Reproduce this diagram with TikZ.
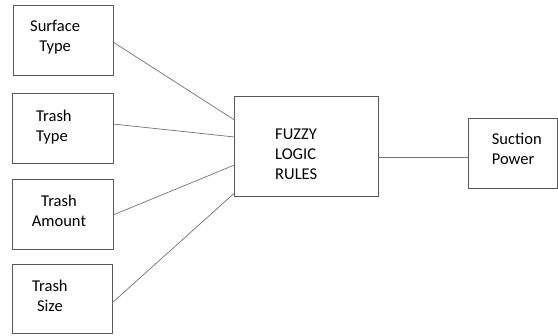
\documentclass[tikz,border=0pt]{standalone}
\usepackage{fontspec}
\setmainfont{Carlito}
\begin{document}
\begin{tikzpicture}[x=1pt,y=-1pt,
  box/.style={draw=black!65,line width=0.9pt,inner sep=0pt,outer sep=0pt,fill=white},
  wire/.style={draw=black!55,line width=0.7pt},
  txt/.style={anchor=base west,inner sep=0pt,font=\fontsize{16.5}{20}\selectfont}]
\useasboundingbox[fill=white] (0,0) rectangle (558,336);
% boxes
\node[box,minimum width=100pt,minimum height=70pt] (st) at (63,40) {};
\node[box,minimum width=101pt,minimum height=70pt] (tt) at (62.5,128) {};
\node[box,minimum width=101pt,minimum height=70pt] (ta) at (62.5,214) {};
\node[box,minimum width=100pt,minimum height=69pt] (ts) at (62,298.5) {};
\node[box,minimum width=143.5pt,minimum height=100pt] (fz) at (306.25,146) {};
\node[box,minimum width=89pt,minimum height=70pt] (sp) at (513,153) {};
% texts (anchored at the baseline of the last line)
\node[txt,align=center] (stt) at (30,51.7) {Surface\\Type};
\node[txt,align=left] (ttt) at (36,141.7) {Trash\\Type};
\node[txt,align=center] (tat) at (31.7,227) {Trash\\Amount};
\node[txt,align=center] (tst) at (32,311.7) {Trash\\Size};
\node[txt,align=left] (fzt) at (275,179.3) {FUZZY\\LOGIC\\RULES};
\node[txt,align=left] (spt) at (491.7,165) {Suction\\Power};
% connectors
\draw[wire] ([yshift=-2pt]st.east) -- ([yshift=26pt]fz.west);
\draw[wire] ([yshift=4pt]tt.east) -- ([yshift=9pt]fz.west);
\draw[wire] ([yshift=-1pt]ta.east) -- ([yshift=-19pt]fz.west);
\draw[wire] ([yshift=-4.5pt]ts.east) -- ([yshift=-47pt]fz.west);
\draw[wire] ([yshift=-11pt]fz.east) -- ([yshift=-4pt]sp.west);
\end{tikzpicture}
\end{document}
